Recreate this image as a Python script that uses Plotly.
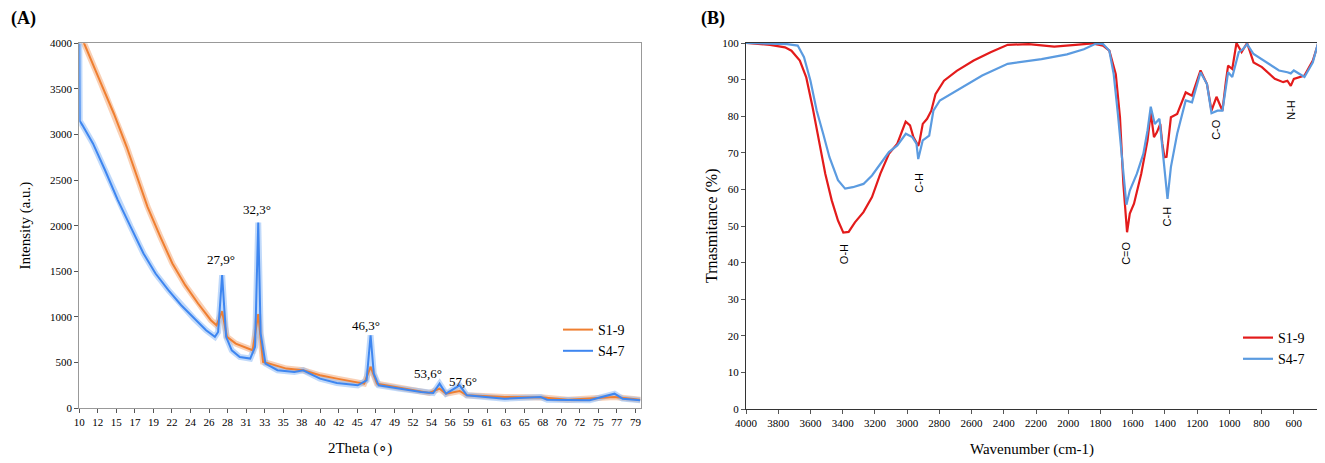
import plotly.graph_objects as go

# ---- (A) XRD, values ----
xrd_theta_s1 = [10.0, 10.6, 12.7, 14.3, 15.9, 16.9, 18.5, 20.1, 21.6, 23.2, 24.8, 26.4, 27.1,
                27.8, 28.4, 29.5, 31.1, 31.6, 32.3, 32.9, 33.7, 35.8, 37.9, 40.0, 42.1, 44.2,
                45.5, 46.3, 47.1, 49.4, 51.5, 53.6, 54.9, 55.7, 57.4, 58.3, 63.0, 67.8, 70.9,
                76.7, 79.9]
xrd_s1 = [4150, 4000, 3560, 3230, 2865, 2610, 2207, 1878, 1585, 1347, 1146, 963, 908,
          1060, 780, 706, 651, 633, 1030, 505, 487, 432, 414, 359, 322, 285,
          267, 450, 267, 230, 194, 165, 212, 157, 187, 139, 121, 115, 90,
          121, 91]

xrd_theta_s4 = [10.0, 10.05, 10.4, 11.7, 13.2, 14.8, 16.4, 18.0, 19.5, 21.1, 22.7, 24.3, 25.8,
                26.9, 27.3, 27.8, 28.3, 29.0, 30.0, 31.3, 31.9, 32.3, 32.6, 33.2, 34.7, 36.8,
                37.9, 40.0, 42.1, 44.7, 45.8, 46.3, 46.7, 47.3, 50.0, 52.6, 54.1, 54.9, 55.7,
                57.4, 58.3, 63.0, 67.5, 68.3, 73.6, 76.7, 77.7, 79.9]
xrd_s4 = [4000, 3150, 3100, 2902, 2610, 2280, 1987, 1695, 1475, 1292, 1127, 981, 853,
          780, 834, 1457, 780, 633, 560, 542, 670, 2035, 816, 487, 414, 395,
          414, 322, 274, 249, 304, 798, 377, 249, 212, 176, 165, 267, 157,
          249, 139, 102, 121, 91, 84, 157, 102, 84]

xrd_tickvals = [10 + 2.31 * i for i in range(31)]
xrd_ticktext = ['10', '12', '15', '17', '19', '22', '24', '26', '28', '31', '33', '35', '38', '40',
                '42', '45', '47', '49', '52', '54', '56', '59', '61', '63', '65', '68', '70',
                '72', '75', '77', '79']

xrd_peak_labels = ['27,9°', '32,3°', '46,3°', '53,6°', '57,6°']
xrd_peak_x = [27.7, 32.1, 45.75, 53.5, 57.8]
xrd_peak_y = [1634, 2182, 910, 373, 289]

# ---- (B) FTIR, values ----
ftir_wn_s1 = [4000, 3850, 3758, 3718, 3666, 3626, 3587, 3547, 3508, 3468, 3429, 3396, 3363,
              3324, 3271, 3218, 3166, 3113, 3061, 3009, 2982, 2961, 2931, 2924, 2903, 2876,
              2850, 2824, 2771, 2692, 2587, 2482, 2376, 2245, 2087, 1955, 1850, 1784, 1745,
              1705, 1679, 1658, 1635, 1618, 1592, 1547, 1508, 1488, 1468, 1450, 1429, 1416,
              1403, 1390, 1363, 1324, 1271, 1232, 1179, 1139, 1111, 1080, 1043, 1021, 1008,
              982, 956, 924, 890, 850, 798, 718, 666, 640, 619, 600, 534, 482, 450]
ftir_s1 = [100, 99.5, 98.8, 97.9, 95.2, 90.6, 82.5, 73.4, 64.3, 57.0, 51.5, 48.2, 48.4,
           51.0, 53.8, 57.9, 64.3, 69.7, 72.5, 78.5, 77.5, 74.3, 71.9, 72.9, 77.9, 79.3,
           81.5, 86.0, 89.7, 92.4, 95.2, 97.5, 99.5, 99.7, 99.0, 99.5, 99.9, 99.3, 97.9,
           91.5, 79.7, 61.5, 48.3, 53.4, 56.1, 64.3, 73.4, 81.0, 74.3, 75.6, 77.9, 72.5,
           68.8, 68.9, 79.7, 80.6, 86.5, 85.6, 92.5, 88.8, 81.5, 85.3, 81.5, 89.7, 93.8,
           92.9, 100, 97.5, 100, 94.7, 93.4, 90.2, 89.3, 89.7, 88.3, 90.2, 91.1, 95.2, 99.7]

ftir_wn_s4 = [4000, 3745, 3679, 3640, 3600, 3561, 3521, 3482, 3429, 3385, 3337, 3271, 3218,
              3166, 3113, 3061, 3008, 2968, 2942, 2931, 2903, 2863, 2837, 2797, 2692, 2534,
              2376, 2166, 2008, 1903, 1824, 1784, 1745, 1718, 1692, 1666, 1639, 1618, 1574,
              1534, 1508, 1488, 1463, 1434, 1416, 1384, 1363, 1324, 1271, 1232, 1179, 1139,
              1111, 1074, 1043, 1008, 982, 942, 916, 890, 850, 771, 692, 640, 619, 600,
              534, 482, 450]
ftir_s4 = [100, 99.7, 99.3, 96.1, 89.7, 81.5, 75.2, 68.8, 62.5, 60.2, 60.6, 61.5, 63.8,
           67.0, 70.2, 72.0, 75.2, 74.3, 72.5, 68.3, 73.4, 74.7, 81.5, 84.3, 87.0, 91.1,
           94.3, 95.6, 96.9, 98.3, 99.9, 99.7, 97.9, 91.5, 80.6, 67.9, 55.8, 59.7, 64.3,
           69.7, 76.1, 82.6, 77.9, 79.3, 71.5, 57.4, 66.1, 75.2, 84.3, 83.8, 92.0, 88.8,
           80.8, 81.5, 81.5, 92.0, 90.7, 97.5, 98.3, 99.7, 97.0, 94.7, 92.5, 92.0, 91.7, 92.5,
           90.7, 94.7, 100]

ftir_band_labels = ['O-H', 'C-H', 'C=O', 'C-H', 'C-O', 'N-H']
ftir_band_x = [3392, 2923, 1643, 1390, 1084, 619]
ftir_band_y = [42.3, 61.7, 42.6, 52.5, 76.5, 81.7]

W, H = 1325, 463
OFF = 8  # the page body adds 8px before the figure


def px(x):
    return (x - OFF) / W


def py(y):
    return 1 - (y - OFF) / H


serif = 'Liberation Serif, Times New Roman, serif'
orange = '#EF7F31'
orange_light = 'rgba(244, 170, 120, 0.55)'
blue_xrd = '#3E86F0'
blue_light = 'rgba(140, 185, 245, 0.55)'
red = '#E31B1B'
blue_ftir = '#5B9BE0'

fig = go.Figure()

# soft wide band under the XRD lines to mimic the noisy trace
fig.add_trace(go.Scatter(x=xrd_theta_s1, y=xrd_s1, mode='lines', showlegend=False,
                         hoverinfo='skip', line=dict(color=orange_light, width=6)))
fig.add_trace(go.Scatter(x=xrd_theta_s4, y=xrd_s4, mode='lines', showlegend=False,
                         hoverinfo='skip', line=dict(color=blue_light, width=6)))
fig.add_trace(go.Scatter(x=xrd_theta_s1, y=xrd_s1, mode='lines', name='S1-9',
                         line=dict(color=orange, width=2), legend='legend'))
fig.add_trace(go.Scatter(x=xrd_theta_s4, y=xrd_s4, mode='lines', name='S4-7',
                         line=dict(color=blue_xrd, width=2), legend='legend'))
fig.add_trace(go.Scatter(x=ftir_wn_s1, y=ftir_s1, mode='lines', name='S1-9',
                         line=dict(color=red, width=2.2), xaxis='x2', yaxis='y2',
                         legend='legend2'))
fig.add_trace(go.Scatter(x=ftir_wn_s4, y=ftir_s4, mode='lines', name='S4-7',
                         line=dict(color=blue_ftir, width=2.2), xaxis='x2', yaxis='y2',
                         legend='legend2'))

annotations = []
for t, x, y in zip(xrd_peak_labels, xrd_peak_x, xrd_peak_y):
    annotations.append(dict(text=t, x=x, y=y, xref='x', yref='y', showarrow=False,
                            font=dict(family=serif, size=13, color='black')))
for t, x, y in zip(ftir_band_labels, ftir_band_x, ftir_band_y):
    annotations.append(dict(text=t, x=x, y=y, xref='x2', yref='y2', showarrow=False,
                            textangle=-90,
                            font=dict(family='Liberation Sans, Arial, sans-serif', size=11,
                                      color='black')))
# panel letters
annotations.append(dict(text='<b>(A)</b>', x=px(9), y=py(18), xref='paper', yref='paper',
                        showarrow=False, xanchor='left', yanchor='middle',
                        font=dict(family=serif, size=18, color='black')))
annotations.append(dict(text='<b>(B)</b>', x=px(699), y=py(18), xref='paper', yref='paper',
                        showarrow=False, xanchor='left', yanchor='middle',
                        font=dict(family=serif, size=18, color='black')))
# y title of panel B, set by hand so it sits where the reference has it
annotations.append(dict(text='Trnasmitance (%)', x=px(712), y=py(226), xref='paper',
                        yref='paper', showarrow=False, textangle=-90,
                        font=dict(family=serif, size=16, color='black')))

axis_common = dict(showgrid=False, zeroline=False, showline=True, mirror=True,
                   ticks='outside', ticklen=4, tickcolor='#555', automargin=False,
                   tickfont=dict(family=serif, size=11, color='black'))

fig.update_layout(
    width=W, height=H,
    margin=dict(l=0, r=0, t=0, b=0, autoexpand=False),
    paper_bgcolor='white', plot_bgcolor='white',
    font=dict(family=serif, color='black'),
    xaxis=dict(domain=[px(79.3), px(641)], range=[10, 80], tickmode='array',
               tickvals=xrd_tickvals, ticktext=xrd_ticktext, linecolor='#999',
               title=dict(text='2Theta (∘)', font=dict(family=serif, size=15)),
               **axis_common),
    yaxis=dict(domain=[py(408), py(43.3)], range=[0, 4000], dtick=500,
               linecolor='#999',
               title=dict(text='Intensity (a.u.)', font=dict(family=serif, size=15)),
               **axis_common),
    xaxis2=dict(domain=[px(746), px(1318)], range=[4000, 450], dtick=200, tick0=0,
                linecolor='#333', anchor='y2',
                title=dict(text='Wavenumber (cm-1)', font=dict(family=serif, size=15)),
                **axis_common),
    yaxis2=dict(domain=[py(409), py(43)], range=[0, 100], dtick=10, linecolor='#333',
                anchor='x2', **axis_common),
    legend=dict(x=px(630), y=py(314), xanchor='right', yanchor='top',
                bgcolor='rgba(0,0,0,0)', font=dict(family=serif, size=14),
                itemwidth=30, tracegroupgap=0),
    legend2=dict(x=px(1310), y=py(322), xanchor='right', yanchor='top',
                 bgcolor='rgba(0,0,0,0)', font=dict(family=serif, size=14),
                 itemwidth=30, tracegroupgap=0),
    annotations=annotations,
)

fig.write_html('out.html')
